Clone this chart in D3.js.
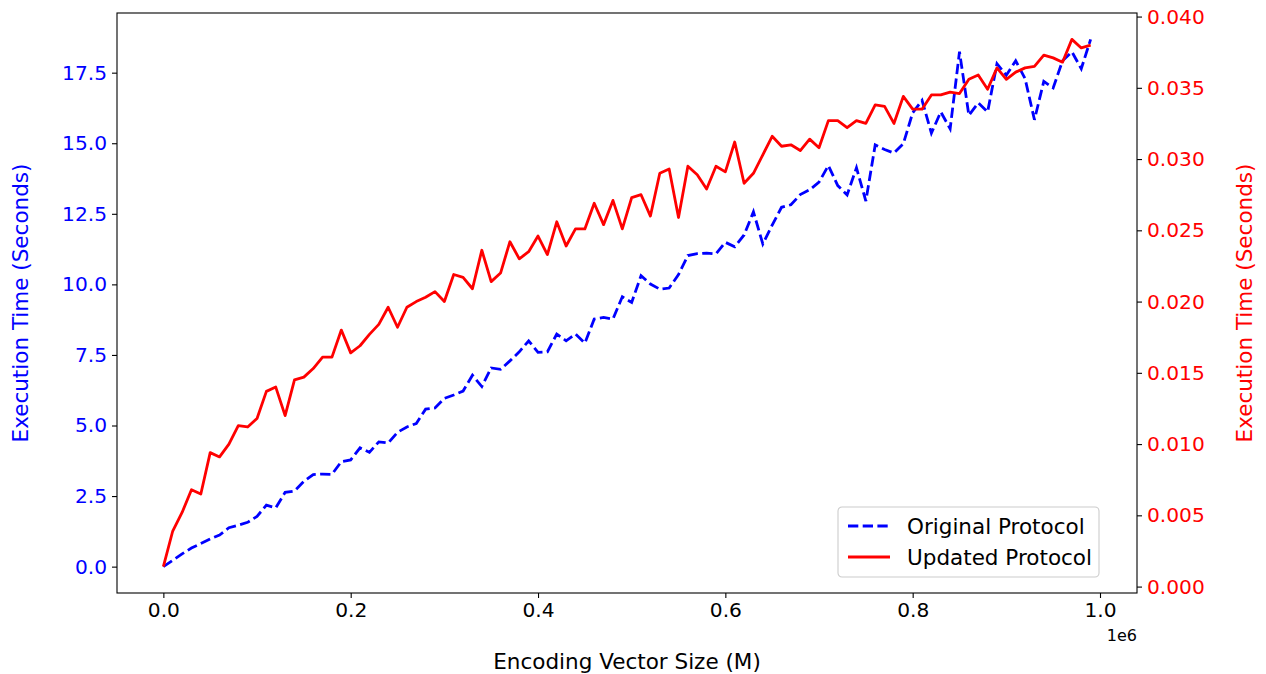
<!DOCTYPE html>
<html>
<head>
<meta charset="utf-8">
<script src="https://cdn.jsdelivr.net/npm/d3@7"></script>
<style>
    body { margin: 0; background: #ffffff; }
    svg { font-family: "DejaVu Sans", sans-serif; }
</style>
</head>
<body>
<svg id="chartSvg" width="1266" height="674"></svg>
<script>
// encoding vector sizes (x)
let sizes = [
    0, 10000, 20000, 30000, 40000, 50000, 60000, 70000, 80000, 90000,
    100000, 110000, 120000, 130000, 140000, 150000, 160000, 170000, 180000, 190000,
    200000, 210000, 220000, 230000, 240000, 250000, 260000, 270000, 280000, 290000,
    300000, 310000, 320000, 330000, 340000, 350000, 360000, 370000, 380000, 390000,
    400000, 410000, 420000, 430000, 440000, 450000, 460000, 470000, 480000, 490000,
    500000, 510000, 520000, 530000, 540000, 550000, 560000, 570000, 580000, 590000,
    600000, 610000, 620000, 630000, 640000, 650000, 660000, 670000, 680000, 690000,
    700000, 710000, 720000, 730000, 740000, 750000, 760000, 770000, 780000, 790000,
    800000, 810000, 820000, 830000, 840000, 850000, 860000, 870000, 880000, 890000,
    900000, 910000, 920000, 930000, 940000, 950000, 960000, 970000, 980000, 990000
];

// original protocol, seconds (left axis)
let originalTimes = [
    0, 0.22, 0.45, 0.66, 0.82, 0.98, 1.12, 1.38, 1.47, 1.57,
    1.78, 2.18, 2.08, 2.63, 2.68, 3.02, 3.26, 3.28, 3.27, 3.72,
    3.78, 4.21, 4.05, 4.42, 4.38, 4.76, 4.95, 5.07, 5.58, 5.62,
    5.96, 6.08, 6.22, 6.78, 6.38, 7.04, 6.99, 7.29, 7.61, 8.00,
    7.59, 7.61, 8.24, 8.00, 8.24, 7.92, 8.77, 8.83, 8.77, 9.56,
    9.36, 10.31, 10.01, 9.83, 9.87, 10.35, 11.02, 11.09, 11.11, 11.08,
    11.49, 11.33, 11.75, 12.57, 11.43, 12.10, 12.73, 12.82, 13.18, 13.35,
    13.62, 14.21, 13.50, 13.17, 14.13, 12.95, 14.94, 14.78, 14.65, 14.98,
    16.08, 16.52, 15.36, 16.11, 15.51, 18.24, 15.99, 16.43, 16.11, 17.82,
    17.41, 17.92, 17.29, 15.83, 17.19, 16.96, 17.92, 18.24, 17.64, 18.68
];

// updated protocol, seconds (right axis)
let updatedTimes = [
    0.0014, 0.0039, 0.0052, 0.0068, 0.0065, 0.0094, 0.0091, 0.0100, 0.0113, 0.0112,
    0.0118, 0.0137, 0.0140, 0.0120, 0.0145, 0.0147, 0.0153, 0.0161, 0.0161, 0.0180,
    0.0164, 0.0169, 0.0177, 0.0184, 0.0196, 0.0182, 0.0196, 0.0200, 0.0203, 0.0207,
    0.0200, 0.0219, 0.0217, 0.0209, 0.0236, 0.0214, 0.0220, 0.0242, 0.0230, 0.0235,
    0.0246, 0.0233, 0.0256, 0.0239, 0.0251, 0.0251, 0.0269, 0.0254, 0.0271, 0.0251,
    0.0273, 0.0275, 0.0260, 0.0290, 0.0293, 0.0259, 0.0295, 0.0289, 0.0279, 0.0295,
    0.0291, 0.0312, 0.0283, 0.0290, 0.0303, 0.0316, 0.0309, 0.0310, 0.0306, 0.0314,
    0.0308, 0.0327, 0.0327, 0.0322, 0.0327, 0.0325, 0.0338, 0.0337, 0.0325, 0.0344,
    0.0335, 0.0335, 0.0345, 0.0345, 0.0347, 0.0346, 0.0356, 0.0359, 0.0349, 0.0364,
    0.0356, 0.0361, 0.0364, 0.0365, 0.0373, 0.0371, 0.0368, 0.0384, 0.0378, 0.0380
];

let xTicks = [0, 200000, 400000, 600000, 800000, 1000000];
let leftTicks = [0, 2.5, 5, 7.5, 10, 12.5, 15, 17.5];
let rightTicks = [0, 0.005, 0.01, 0.015, 0.02, 0.025, 0.03, 0.035, 0.04];
let seriesNames = ["Original Protocol", "Updated Protocol"];

let blue = '#0000ff';
let red = '#ff0000';
let tickFont = 20.2;
let labelFont = 21.5;

function padded(values) {
    // matplotlib style 5% margins
    let lo = d3.min(values), hi = d3.max(values);
    let pad = (hi - lo) * 0.05;
    return [lo - pad, hi + pad];
}

function drawChart() {
    let svg = d3.select("#chartSvg");
    let left = 117, right = 1137, top = 13, bottom = 593;

    let xScale = d3.scaleLinear().domain(padded(sizes)).range([left, right]);
    let yLeft = d3.scaleLinear().domain(padded(originalTimes)).range([bottom, top]);
    let yRight = d3.scaleLinear().domain(padded(updatedTimes)).range([bottom, top]);

    //axes
    let xAxis = svg.append('g')
        .attr('transform', `translate(0, ${bottom})`)
        .call(d3.axisBottom(xScale)
            .tickValues(xTicks)
            .tickSize(5)
            .tickPadding(5)
            .tickFormat(d => (d / 1e6).toFixed(1)));

    let leftAxis = svg.append('g')
        .attr('transform', `translate(${left}, 0)`)
        .call(d3.axisLeft(yLeft)
            .tickValues(leftTicks)
            .tickSize(5)
            .tickPadding(5)
            .tickFormat(d => d.toFixed(1)));

    let rightAxis = svg.append('g')
        .attr('transform', `translate(${right}, 0)`)
        .call(d3.axisRight(yRight)
            .tickValues(rightTicks)
            .tickSize(5)
            .tickPadding(5)
            .tickFormat(d => d.toFixed(3)));

    for (let ax of [xAxis, leftAxis, rightAxis]) {
        ax.select('.domain').remove();
        ax.selectAll('line').attr('stroke', '#000').attr('stroke-width', 1.1);
        ax.selectAll('text')
            .attr('font-family', '"DejaVu Sans", sans-serif')
            .attr('font-size', tickFont)
            .attr('fill', '#000');
    }
    leftAxis.selectAll('text').attr('fill', blue);
    rightAxis.selectAll('text').attr('fill', red);

    //lines
    let blueLine = d3.line()
        .x((d, i) => xScale(sizes[i]))
        .y(d => yLeft(d));
    let redLine = d3.line()
        .x((d, i) => xScale(sizes[i]))
        .y(d => yRight(d));

    svg.append('path')
        .datum(originalTimes)
        .attr('d', blueLine)
        .attr('fill', 'none')
        .attr('stroke', blue)
        .attr('stroke-width', 2.8)
        .attr('stroke-dasharray', '10.3,4.4');

    svg.append('path')
        .datum(updatedTimes)
        .attr('d', redLine)
        .attr('fill', 'none')
        .attr('stroke', red)
        .attr('stroke-width', 2.8)
        .attr('stroke-linejoin', 'round');

    //frame
    svg.append('rect')
        .attr('x', left)
        .attr('y', top)
        .attr('width', right - left)
        .attr('height', bottom - top)
        .attr('fill', 'none')
        .attr('stroke', '#000')
        .attr('stroke-width', 1.1);

    //labels
    svg.append('text')
        .attr('x', (left + right) / 2)
        .attr('y', 669)
        .attr('text-anchor', 'middle')
        .attr('font-size', labelFont)
        .text('Encoding Vector Size (M)');

    svg.append('text')
        .attr('x', right)
        .attr('y', 641)
        .attr('text-anchor', 'end')
        .attr('font-size', 16)
        .text('1e6');

    svg.append('text')
        .attr('transform', `translate(28, ${(top + bottom) / 2}) rotate(-90)`)
        .attr('text-anchor', 'middle')
        .attr('font-size', labelFont)
        .attr('fill', blue)
        .text('Execution Time (Seconds)');

    svg.append('text')
        .attr('transform', `translate(1252, ${(top + bottom) / 2}) rotate(-90)`)
        .attr('text-anchor', 'middle')
        .attr('font-size', labelFont)
        .attr('fill', red)
        .text('Execution Time (Seconds)');

    //legend
    let legend = svg.append('g').attr('transform', 'translate(838, 507)');
    legend.append('rect')
        .attr('width', 261)
        .attr('height', 70)
        .attr('rx', 4)
        .attr('fill', '#ffffff')
        .attr('fill-opacity', 0.8)
        .attr('stroke', '#cccccc')
        .attr('stroke-width', 1.1);

    let legendColours = [blue, red];
    let legendDash = ['10.3,4.4', null];
    seriesNames.forEach((name, i) => {
        let y = 19 + i * 31;
        legend.append('line')
            .attr('x1', 10)
            .attr('x2', 52)
            .attr('y1', y)
            .attr('y2', y)
            .attr('stroke', legendColours[i])
            .attr('stroke-width', 2.8)
            .attr('stroke-dasharray', legendDash[i]);
        legend.append('text')
            .attr('x', 69)
            .attr('y', y)
            .attr('dy', '0.35em')
            .attr('font-size', labelFont)
            .text(name);
    });
}

drawChart();
</script>
</body>
</html>
